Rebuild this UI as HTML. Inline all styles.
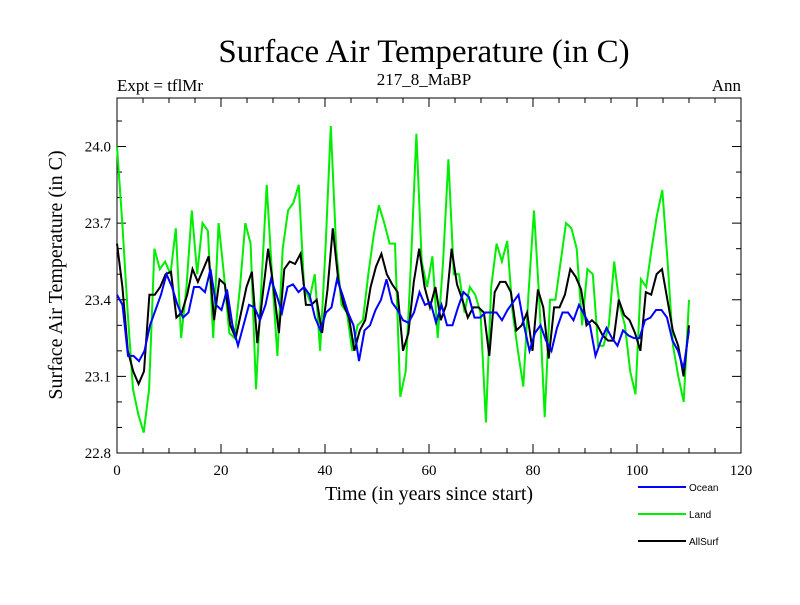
<!DOCTYPE html>
<html><head><meta charset="utf-8"><style>
body{margin:0;background:#fff;width:800px;height:600px;overflow:hidden}
text{font-family:"Liberation Serif",serif;fill:#000}
</style></head><body>
<svg id="chart" width="800" height="600" xmlns="http://www.w3.org/2000/svg">
<text x="424" y="62" font-size="33" text-anchor="middle">Surface Air Temperature (in C)</text>
<text x="117" y="91" font-size="17">Expt = tflMr</text>
<text x="424" y="85" font-size="17" text-anchor="middle">217_8_MaBP</text>
<text x="741" y="91" font-size="17" text-anchor="end">Ann</text>
<rect x="117" y="98" width="624" height="355" fill="none" stroke="#000" stroke-width="1"/>
<g id="axes"></g>
<g id="series"></g>
<text x="429" y="500" font-size="20" text-anchor="middle">Time (in years since start)</text>
<text transform="translate(62,275) rotate(-90)" font-size="20" text-anchor="middle">Surface Air Temperature (in C)</text>
<g id="legend"></g>
</svg>
<script>
const xTicks=[0,20,40,60,80,100,120];
const yTicks=[22.8,23.1,23.4,23.7,24.0];
const seriesNames=["Ocean","Land","AllSurf"];
const seriesColors=["#0000ff","#00ee00","#000000"];
const ocean=[23.42,23.38,23.18,23.18,23.16,23.2,23.3,23.36,23.42,23.5,23.45,23.38,23.33,23.35,23.45,23.45,23.43,23.52,23.38,23.36,23.44,23.3,23.22,23.3,23.38,23.37,23.32,23.38,23.48,23.42,23.35,23.45,23.46,23.43,23.45,23.42,23.33,23.28,23.35,23.37,23.48,23.42,23.35,23.3,23.16,23.28,23.3,23.36,23.4,23.48,23.39,23.36,23.32,23.31,23.35,23.43,23.38,23.39,23.31,23.38,23.3,23.3,23.37,23.43,23.41,23.33,23.33,23.35,23.35,23.35,23.32,23.36,23.39,23.42,23.3,23.2,23.27,23.3,23.24,23.2,23.29,23.35,23.35,23.32,23.38,23.34,23.3,23.18,23.24,23.29,23.25,23.22,23.28,23.26,23.25,23.25,23.32,23.33,23.36,23.36,23.33,23.24,23.2,23.13,23.28];
const land=[24.0,23.7,23.35,23.05,22.95,22.88,23.05,23.6,23.52,23.55,23.5,23.68,23.25,23.45,23.75,23.5,23.7,23.67,23.25,23.7,23.5,23.27,23.25,23.45,23.7,23.62,23.05,23.45,23.85,23.5,23.18,23.6,23.75,23.78,23.85,23.45,23.4,23.5,23.2,23.6,24.08,23.6,23.38,23.35,23.2,23.3,23.32,23.5,23.65,23.77,23.7,23.62,23.62,23.02,23.12,23.55,24.05,23.55,23.45,23.57,23.25,23.55,23.95,23.5,23.5,23.35,23.45,23.42,23.35,22.92,23.45,23.62,23.55,23.63,23.35,23.2,23.06,23.43,23.75,23.4,22.94,23.4,23.4,23.55,23.7,23.68,23.6,23.3,23.52,23.5,23.22,23.22,23.3,23.55,23.38,23.3,23.12,23.03,23.48,23.45,23.6,23.73,23.83,23.55,23.22,23.1,23.0,23.4];
const allSurf=[23.62,23.45,23.2,23.12,23.07,23.12,23.42,23.42,23.45,23.5,23.51,23.33,23.35,23.42,23.52,23.47,23.52,23.57,23.32,23.48,23.46,23.3,23.25,23.35,23.45,23.51,23.23,23.42,23.6,23.45,23.27,23.52,23.55,23.54,23.58,23.38,23.38,23.4,23.27,23.44,23.68,23.48,23.38,23.33,23.2,23.28,23.32,23.45,23.53,23.58,23.5,23.46,23.43,23.2,23.27,23.47,23.6,23.45,23.37,23.45,23.32,23.38,23.6,23.46,23.4,23.33,23.37,23.37,23.35,23.18,23.43,23.47,23.47,23.43,23.28,23.3,23.35,23.2,23.44,23.37,23.17,23.37,23.37,23.42,23.52,23.49,23.44,23.3,23.32,23.3,23.26,23.24,23.24,23.4,23.34,23.32,23.27,23.2,23.43,23.42,23.5,23.52,23.4,23.28,23.22,23.1,23.3];
const lastYear=110;
const NS="http://www.w3.org/2000/svg";
const X0=117,X1=741,Y0=453,Y1=98,vMin=22.8,vMax=24.19;
function xs(v){return X0+(v-0)/(120-0)*(X1-X0);}
function ys(v){return Y0-(v-vMin)/(vMax-vMin)*(Y0-Y1);}
function mk(t,a){const e=document.createElementNS(NS,t);for(const k in a)e.setAttribute(k,a[k]);return e;}
const axes=document.getElementById('axes');
xTicks.forEach((t,i)=>{
 const x=xs(t);
 const l=mk('line',{x1:x,x2:x,y1:Y0,y2:Y0-9,stroke:'#000'});
 
 
 axes.appendChild(l);
 const l2=mk('line',{x1:x,x2:x,y1:Y1,y2:Y1+9,stroke:'#000'});
 
 
 axes.appendChild(l2);
 if(i<xTicks.length-1){for(let m=1;m<4;m++){const xm=xs(t+m*5);
  const a=mk('line',{x1:xm,x2:xm,y1:Y0,y2:Y0-5,stroke:'#000'});
  
  
  axes.appendChild(a);
  const b=mk('line',{x1:xm,x2:xm,y1:Y1,y2:Y1+5,stroke:'#000'});
  
  
  axes.appendChild(b);}}
 const tx=mk('text',{x:x,y:Y0+22,'font-size':15,'text-anchor':'middle'});
 tx.textContent=t;
 
 
 axes.appendChild(tx);
});
yTicks.forEach((t,i)=>{
 const y=ys(t);
 [[X0,X0+9],[X1,X1-9]].forEach(p=>{const l=mk('line',{x1:p[0],x2:p[1],y1:y,y2:y,stroke:'#000'});
  
  
  axes.appendChild(l);});
 for(let m=1;m<3;m++){const v=t+m*0.1;if(v>vMax)break;const ym=ys(v);
  [[X0,X0+5],[X1,X1-5]].forEach(p=>{const l=mk('line',{x1:p[0],x2:p[1],y1:ym,y2:ym,stroke:'#000'});
  
  
  axes.appendChild(l);});}
 const tx=mk('text',{x:X0-6,y:y+5,'font-size':15,'text-anchor':'end'});
 tx.textContent=t.toFixed(1);
 
 
 axes.appendChild(tx);
});
const sg=document.getElementById('series');
[land,allSurf,ocean].forEach((arr)=>{
 const idx=arr===ocean?0:arr===land?1:2;
 const pts=arr.map((v,i)=>xs(i*lastYear/(arr.length-1)).toFixed(1)+','+ys(v).toFixed(1)).join(' ');
 const pl=mk('polyline',{points:pts,fill:'none',stroke:seriesColors[idx],'stroke-width':2});
 
 
 sg.appendChild(pl);
});
const lg=document.getElementById('legend');
seriesNames.forEach((n,i)=>{
 const y=487+i*27;
 const l=mk('line',{x1:638,x2:686,y1:y,y2:y,stroke:seriesColors[i],'stroke-width':2});
 
 
 lg.appendChild(l);
 const t=mk('text',{x:689,y:y+4,'font-size':10,style:'font-family:"Liberation Sans",sans-serif'});
 t.textContent=n;
 
 
 lg.appendChild(t);
});
</script>
</body></html>
